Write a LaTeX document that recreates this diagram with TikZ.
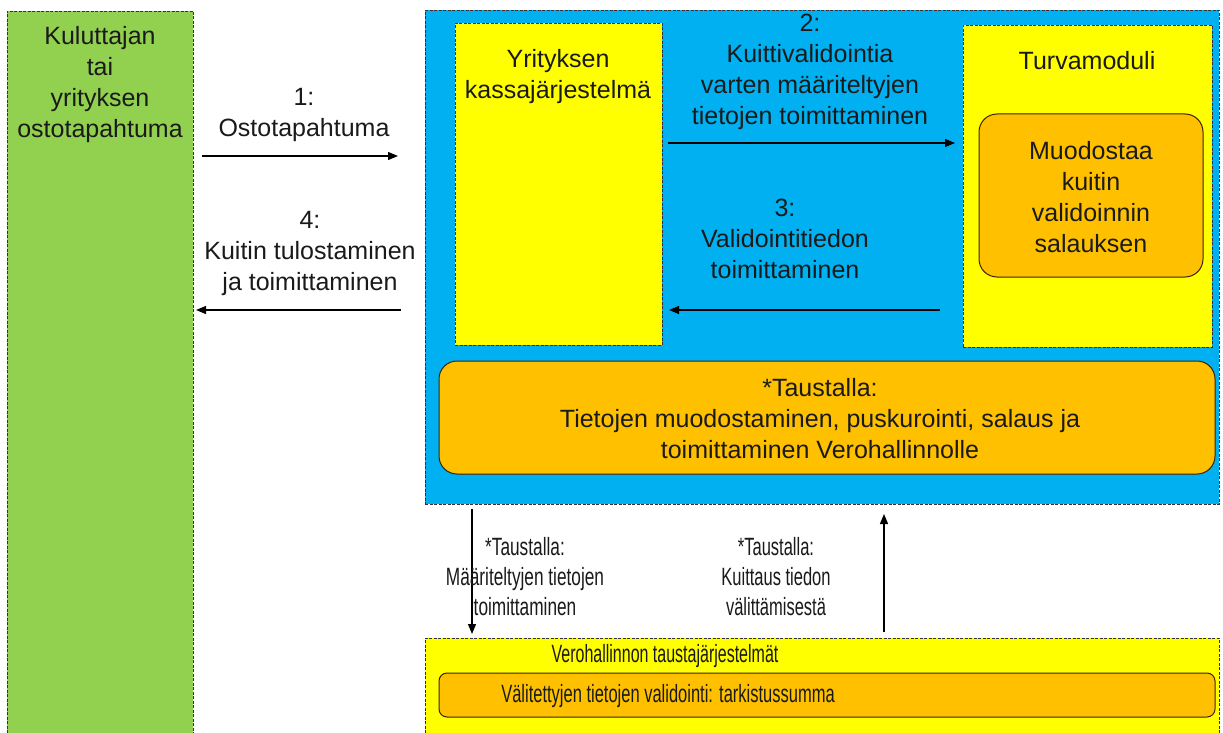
\documentclass[tikz,border=0pt]{standalone}
\usepackage{graphicx}
\usepackage{fontspec}
\setmainfont{Liberation Sans}
\usetikzlibrary{arrows.meta}
\definecolor{cgreen}{HTML}{92D050}
\definecolor{cblue}{HTML}{00B0F0}
\definecolor{cyellow}{HTML}{FFFF00}
\definecolor{corange}{HTML}{FFC000}
\definecolor{ctext}{HTML}{1A1A1A}
\newcommand{\condtext}[2][0.67]{\scalebox{#1}[1]{\begin{tabular}{@{}c@{}}#2\end{tabular}}}
\tikzset{
  dashbox/.style={draw=black!80, dash pattern=on 3pt off 1.5pt, line width=0.8pt},
  roundbox/.style={draw=black!75!orange, line width=1pt, rounded corners=18pt, fill=corange},
  lbl/.style={align=center, inner sep=0pt, text=ctext, font=\fontsize{25}{31}\selectfont},
  nlbl/.style={align=center, inner sep=0pt, text=ctext, font=\fontsize{25}{30}\selectfont},
  conn/.style={line width=1.2pt, -{Triangle[length=10pt,width=8pt]}},
}
\begin{document}
\begin{tikzpicture}[x=1pt,y=-1pt]
\useasboundingbox (0,0) rectangle (1223,733);
\fill[white] (0,0) rectangle (1223,733);

% green box (cut off at bottom)
\fill[cgreen] (7,11) rectangle (193,733);
\draw[dashbox] (7,733) -- (7,11) -- (193,11) -- (193,733);
\node[lbl] (cust) at (100,85) {Kuluttajan\\tai\\yrityksen\\ostotapahtuma};

% blue box
\node[dashbox, fill=cblue, minimum width=794pt, minimum height=494pt, anchor=north west, inner sep=0pt] (blue) at (425,10) {};

% yellow boxes
\node[dashbox, fill=cyellow, minimum width=207pt, minimum height=322pt, anchor=north west, inner sep=0pt] (pos) at (455,23) {};
\node[lbl] (posl) at (558,77) {Yrityksen\\kassajärjestelmä};

\node[dashbox, fill=cyellow, minimum width=249pt, minimum height=322pt, anchor=north west, inner sep=0pt] (tm) at (963,25) {};
\node[lbl] (tml) at (1087,61) {Turvamoduli};

\draw[roundbox] (979,114) rectangle (1203,277);
\node[lbl] (mu) at (1091,197) {Muodostaa\\kuitin\\validoinnin\\salauksen};

% background orange
\draw[roundbox] (439,361) rectangle (1215,474);
\node[lbl] (bg) at (820,419) {*Taustalla:\\Tietojen muodostaminen, puskurointi, salaus ja\\toimittaminen Verohallinnolle};

% bottom yellow box (cut off)
\fill[cyellow] (425,638) rectangle (1219,733);
\draw[dashbox] (425,733) -- (425,638) -- (1219,638) -- (1219,733);
\node[nlbl] (vero) at (665,656) {\condtext[0.64]{Verohallinnon taustajärjestelmät}};
\draw[roundbox, rounded corners=8pt] (439,673) rectangle (1215,717);
\node[nlbl] (val) at (668,696) {\condtext[0.66]{Välitettyjen tietojen validointi: tarkistussumma}};

% arrow end coordinates
\coordinate (a1s) at (202,156);
\coordinate (a1e) at (398,156);
\coordinate (a4s) at (401,310);
\coordinate (a4e) at (196,310);
\coordinate (a2s) at (668,143);
\coordinate (a2e) at (955,143);
\coordinate (a3s) at (940,310);
\coordinate (a3e) at (669,310);
\coordinate (ads) at (472,509);
\coordinate (ade) at (472,634);
\coordinate (aus) at (884,632);
\coordinate (aue) at (884,514);

\draw[conn] (a1s) -- (a1e);
\draw[conn] (a4s) -- (a4e);
\draw[conn] (a2s) -- (a2e);
\draw[conn] (a3s) -- (a3e);
\draw[conn] (ads) -- (ade);
\draw[conn] (aus) -- (aue);

% arrow labels
\node[lbl] (l1) at (304,115) {1:\\Ostotapahtuma};
\node[lbl] (l4) at (310,253) {4:\\Kuitin tulostaminen\\ja toimittaminen};
\node[lbl] (l2) at (810,72) {2:\\Kuittivalidointia\\varten määriteltyjen\\tietojen toimittaminen};
\node[lbl] (l3) at (785,239) {3:\\Validointitiedon\\toimittaminen};
\node[nlbl] (ld) at (525,579) {\condtext[0.69]{*Taustalla:\\Määriteltyjen tietojen\\toimittaminen}};
\node[nlbl] (lu) at (776,579) {\condtext[0.66]{*Taustalla:\\Kuittaus tiedon\\välittämisestä}};
\end{tikzpicture}
\end{document}
